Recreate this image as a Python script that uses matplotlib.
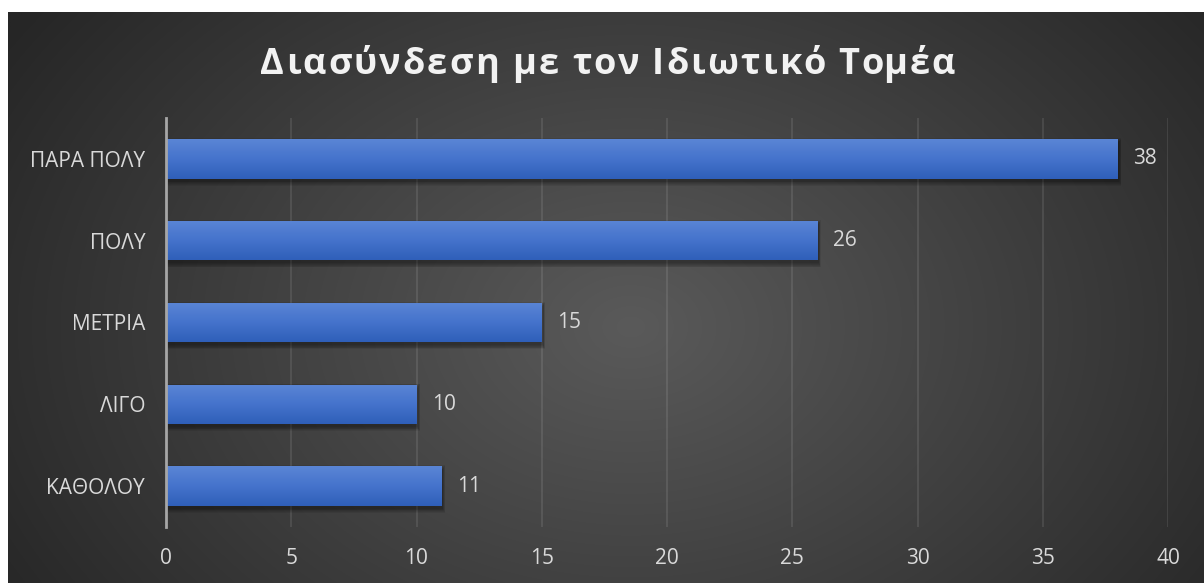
import numpy as np
import matplotlib
matplotlib.use("Agg")
import matplotlib.pyplot as plt
from matplotlib.colors import LinearSegmentedColormap

categories = ["ΚΑΘΟΛΟΥ", "ΛΙΓΟ", "ΜΕΤΡΙΑ", "ΠΟΛΥ", "ΠΑΡΑ ΠΟΛΥ"]
values = [11, 10, 15, 26, 38]
xticks = [0, 5, 10, 15, 20, 25, 30, 35, 40]
title = "Διασύνδεση με τον Ιδιωτικό Τομέα"

W, H = 1204, 583
fig = plt.figure(figsize=(W / 100, H / 100), dpi=100)
fig.patch.set_facecolor("white")

# background panel with radial gradient
bg = fig.add_axes([8 / W, 0, 1 - 8 / W, 1 - 12 / H])
bg.set_axis_off()
ny, nx = 300, 600
yy, xx = np.mgrid[0:ny, 0:nx]
cx, cy = nx * 0.52, ny * 0.55
r = np.sqrt(((xx - cx) / (nx * 0.62)) ** 2 + ((yy - cy) / (ny * 0.95)) ** 2)
r = np.clip(r, 0, 1)
light = np.array([0x5a, 0x5a, 0x5a]) / 255
dark = np.array([0x26, 0x26, 0x26]) / 255
img = light[None, None, :] * (1 - r[..., None]) + dark[None, None, :] * r[..., None]
bg.imshow(img, aspect="auto", extent=[0, 1, 0, 1], interpolation="bilinear")
bg.set_xlim(0, 1)
bg.set_ylim(0, 1)

ax = fig.add_axes([166 / W, 1 - 527 / H, (1168 - 166) / W, (527 - 118) / H])
ax.set_facecolor("none")
y = np.arange(len(categories))
bh = 0.48
px_y = 1 / 82.0   # one pixel in y data units (approx)
px_x = 40 / 1002.0

# soft shadows (layered translucent bars)
for k in range(6):
    ax.barh(y - 3 * px_y, np.array(values) + (1.5 + k * 0.6) * px_x, left=-k * 0.2 * px_x,
            height=bh + (k * 1.6) * px_y, color="black", alpha=0.07, zorder=2, linewidth=0)

bars = ax.barh(y, values, height=bh, color="#4472c4", zorder=3, linewidth=0)
grad = np.linspace(0, 1, 64).reshape(-1, 1)
cmap = LinearSegmentedColormap.from_list("b", ["#2f5fb9", "#4573cc", "#5a85d5"])
for b in bars:
    x0, y0 = b.get_x(), b.get_y()
    im = ax.imshow(grad, cmap=cmap, aspect="auto", origin="lower",
                   extent=[x0, x0 + b.get_width(), y0, y0 + b.get_height()], zorder=4)
    im.set_clip_path(b)

for yi, v in zip(y, values):
    ax.text(v + 0.62, yi, str(v), va="center", ha="left", color="#d9d9d9", fontsize=15,
            family="Open Sans", zorder=5)

ax.set_xlim(0, 40)
ax.set_ylim(-0.5, len(categories) - 0.5)
ax.set_xticks(xticks)
ax.set_xticklabels([str(t) for t in xticks])
ax.set_yticks(y)
ax.set_yticklabels(categories)
ax.tick_params(axis="both", length=0, colors="#d9d9d9", labelsize=15)
ax.tick_params(axis="x", pad=15)
ax.tick_params(axis="y", pad=15)
for lab in ax.get_xticklabels() + ax.get_yticklabels():
    lab.set_family("Open Sans")
ax.grid(axis="x", color="white", alpha=0.1, linewidth=1.3, zorder=1)
ax.grid(axis="y", visible=False)
for s in ["top", "right", "bottom"]:
    ax.spines[s].set_visible(False)
ax.spines["left"].set_color("#a6a6a6")
ax.spines["left"].set_linewidth(2)
ax.spines["left"].set_zorder(6)

# title with letter spacing
renderer = fig.canvas.get_renderer()
tkw = dict(color="#f2f2f2", fontsize=26, fontweight="bold", family="Open Sans")


def text_w(s):
    t = fig.text(0, 0, s, **tkw)
    w = t.get_window_extent(renderer).width
    t.remove()
    return w


ref_w = text_w("x")
offsets = [0.0]
for i in range(1, len(title)):
    offsets.append(text_w(title[:i] + "x") - ref_w)
natural = text_w(title)
target_left, target_right = 260, 955
n = len(title)
spacing = (target_right - target_left - natural) / (n - 1)
baseline = 74
for i, ch in enumerate(title):
    if ch == " ":
        continue
    xpix = target_left + offsets[i] + i * spacing
    fig.text(xpix / W, 1 - baseline / H, ch, ha="left", va="baseline", **tkw)

fig.savefig("out.png", dpi=100, facecolor=fig.get_facecolor())
